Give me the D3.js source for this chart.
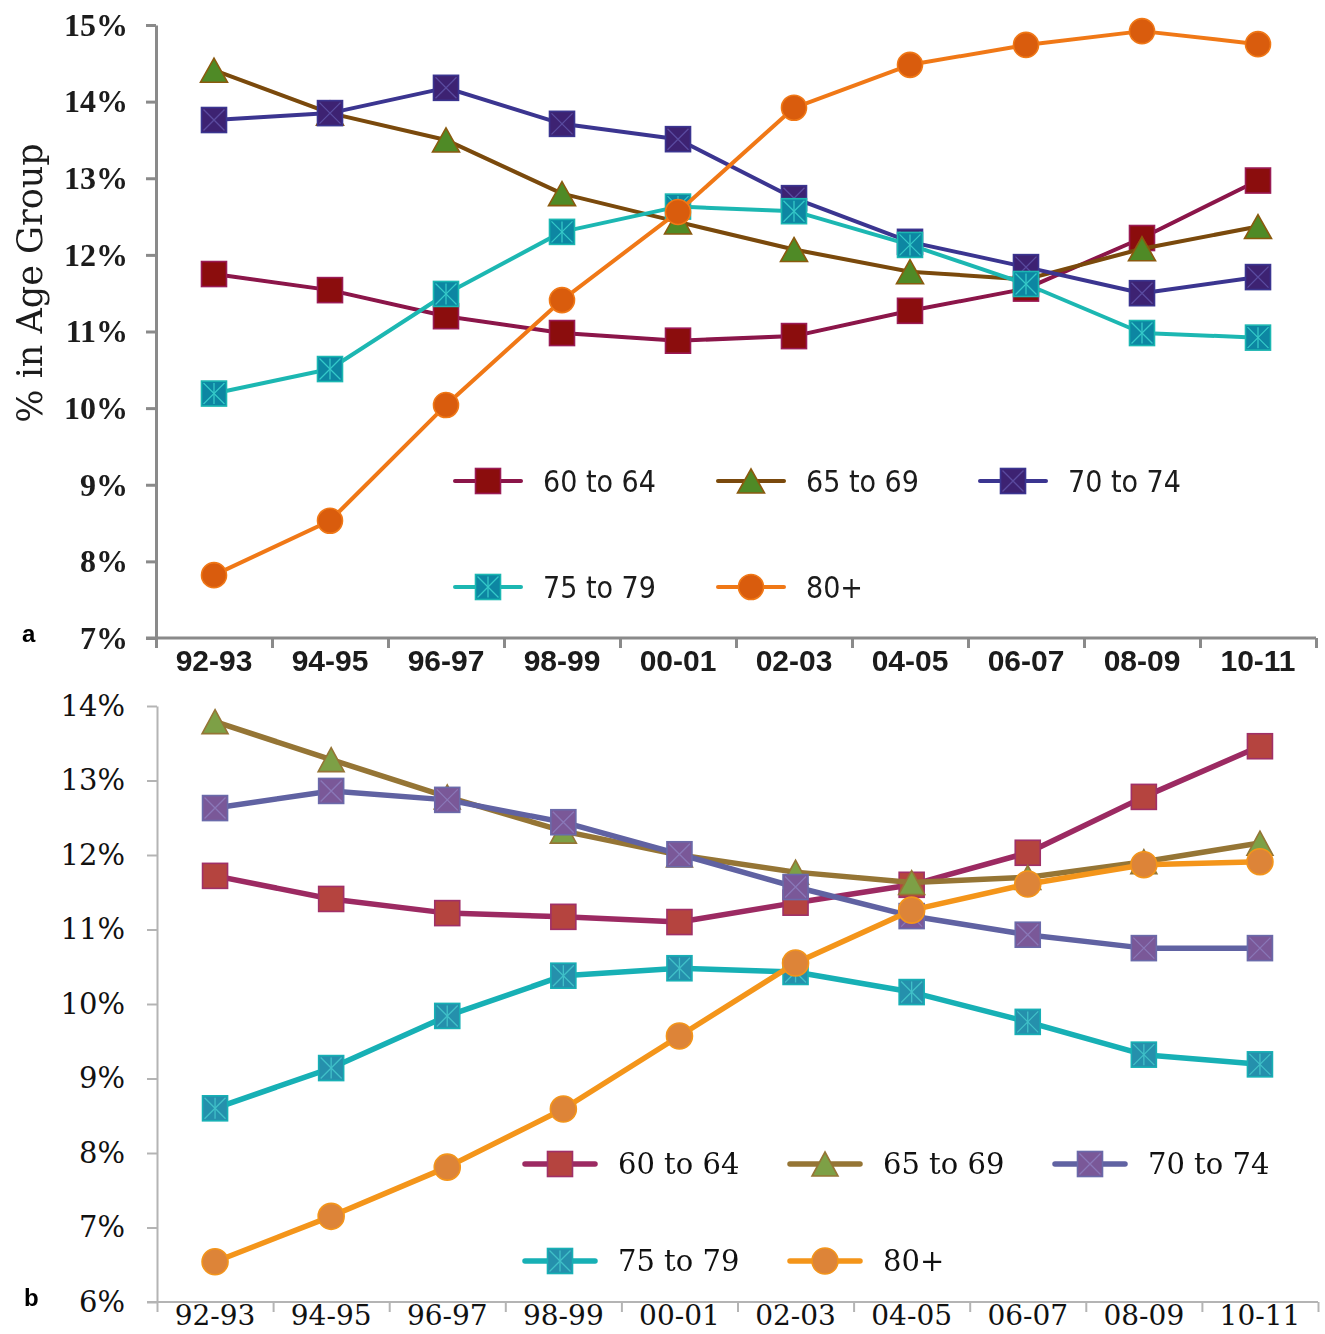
<!DOCTYPE html>
<html>
<head>
<meta charset="utf-8">
<script src="https://cdn.jsdelivr.net/npm/d3@7/dist/d3.min.js"></script>
<style>
  html, body { margin: 0; padding: 0; background: #fff; }
  svg { display: block; }
</style>
</head>
<body>
<svg id="chart" width="1325" height="1334"></svg>
<script>
// Share of older population by age group, two-year periods 1992-93 to 2010-11
const categories = ["92-93", "94-95", "96-97", "98-99", "00-01", "02-03", "04-05", "06-07", "08-09", "10-11"];
const seriesNames = ["60 to 64", "65 to 69", "70 to 74", "75 to 79", "80+"];

// Panel a (values in %)
const a60to64 = [11.75, 11.54, 11.20, 10.98, 10.88, 10.94, 11.27, 11.56, 12.22, 12.97];
const a65to69 = [14.41, 13.85, 13.50, 12.80, 12.43, 12.07, 11.78, 11.68, 12.08, 12.37];
const a70to74 = [13.76, 13.85, 14.18, 13.71, 13.51, 12.74, 12.17, 11.84, 11.50, 11.71];
const a75to79 = [10.19, 10.51, 11.49, 12.30, 12.63, 12.57, 12.13, 11.62, 10.98, 10.92];
const a80plus = [7.82, 8.53, 10.04, 11.41, 12.56, 13.92, 14.48, 14.74, 14.92, 14.75];

// Panel b (values in %)
const b60to64 = [11.72, 11.41, 11.22, 11.17, 11.10, 11.36, 11.60, 12.03, 12.78, 13.46];
const b65to69 = [13.79, 13.28, 12.78, 12.32, 12.00, 11.77, 11.63, 11.70, 11.91, 12.16];
const b70to74 = [12.63, 12.86, 12.74, 12.44, 12.01, 11.57, 11.18, 10.93, 10.75, 10.75];
const b75to79 = [8.60, 9.14, 9.84, 10.38, 10.48, 10.43, 10.16, 9.76, 9.32, 9.19];
const b80plus = [6.54, 7.15, 7.81, 8.59, 9.57, 10.55, 11.26, 11.61, 11.87, 11.91];

// Axis tick values
const aTicks = [7, 8, 9, 10, 11, 12, 13, 14, 15];
const bTicks = [6, 7, 8, 9, 10, 11, 12, 13, 14];

const svg = d3.select("#chart");

// soft focus for the upper panel
const defs = svg.append("defs");
defs.append("filter").attr("id", "soft")
  .attr("x", "-5%").attr("y", "-5%").attr("width", "110%").attr("height", "110%")
  .append("feGaussianBlur").attr("stdDeviation", 0.65);

function drawMarker(g, shape, cx, cy, st) {
  const s = st.size;
  if (shape === "circle") {
    g.append("circle").attr("cx", cx).attr("cy", cy).attr("r", st.r)
      .attr("fill", st.fill).attr("stroke", st.stroke).attr("stroke-width", st.mw);
  } else if (shape === "triangle") {
    const w = st.triW, h = st.triH;
    g.append("path")
      .attr("d", `M${cx},${cy - h / 2}L${cx + w / 2},${cy + h / 2}L${cx - w / 2},${cy + h / 2}Z`)
      .attr("fill", st.fill).attr("stroke", st.stroke).attr("stroke-width", st.mw)
      .attr("stroke-linejoin", "miter");
  } else {
    g.append("rect").attr("x", cx - s / 2).attr("y", cy - s / 2).attr("width", s).attr("height", s)
      .attr("fill", st.fill).attr("stroke", st.stroke).attr("stroke-width", st.mw);
    const d = s / 2 - 2;
    if (shape === "squareX" || shape === "squareStar") {
      g.append("path")
        .attr("d", `M${cx - d},${cy - d}L${cx + d},${cy + d}M${cx - d},${cy + d}L${cx + d},${cy - d}`)
        .attr("stroke", st.inner).attr("stroke-width", 1.3).attr("fill", "none");
    }
    if (shape === "squareStar") {
      g.append("path")
        .attr("d", `M${cx},${cy - d}L${cx},${cy + d}`)
        .attr("stroke", st.inner).attr("stroke-width", 1.3).attr("fill", "none");
    }
  }
}

function drawPanel(cfg) {
  const g = svg.append("g");
  if (cfg.filter) g.attr("filter", cfg.filter);

  const x = d3.scaleBand().domain(categories).range([cfg.x0, cfg.x1]);
  const xEdge = d3.scaleLinear().domain([0, categories.length]).range([cfg.x0, cfg.x1]);
  const y = d3.scaleLinear().domain(cfg.yDomain).range([cfg.yBottom, cfg.yTop]);

  // y axis
  const yAxis = d3.axisLeft(y).tickValues(cfg.ticks).tickSize(10).tickSizeOuter(0)
    .tickFormat(d => d + "%").tickPadding(20);
  const ya = g.append("g").attr("transform", `translate(${cfg.x0},0)`).call(yAxis);
  ya.select(".domain").attr("stroke", cfg.axisColor).attr("stroke-width", cfg.axisWidth);
  ya.selectAll(".tick line").attr("stroke", cfg.axisColor).attr("stroke-width", cfg.axisWidth);
  ya.selectAll(".tick text")
    .attr("font-family", cfg.yFont).attr("font-size", cfg.yFontSize)
    .attr("font-weight", cfg.yWeight).attr("fill", cfg.textColor).attr("x", cfg.yLabelX - cfg.x0);

  // x axis: boundary tick marks
  const xTicksAxis = d3.axisBottom(xEdge).tickValues(d3.range(0, categories.length + 1))
    .tickSize(10).tickSizeOuter(0).tickFormat("");
  const xa = g.append("g").attr("transform", `translate(0,${cfg.yBottom})`).call(xTicksAxis);
  xa.select(".domain").attr("stroke", cfg.axisColor).attr("stroke-width", cfg.axisWidth)
    .attr("d", `M${cfg.x0 - 10},0H${cfg.x1}`);
  xa.selectAll(".tick line").attr("stroke", cfg.axisColor).attr("stroke-width", cfg.axisWidth);

  // x axis: category labels
  const xLabels = d3.axisBottom(x).tickSize(0).tickPadding(0);
  const xl = g.append("g").attr("transform", `translate(0,${cfg.yBottom})`).call(xLabels);
  xl.select(".domain").remove();
  xl.selectAll(".tick text")
    .attr("font-family", cfg.xFont).attr("font-size", cfg.xFontSize)
    .attr("font-weight", cfg.xWeight).attr("fill", cfg.textColor)
    .attr("dy", null).attr("y", cfg.xLabelDy);

  // series
  const line = d3.line().x((d, i) => x(categories[i]) + x.bandwidth() / 2).y(d => y(d));
  cfg.series.forEach((s, k) => {
    const st = cfg.styles[k];
    const sg = g.append("g");
    sg.append("path").datum(s).attr("d", line)
      .attr("fill", "none").attr("stroke", st.line).attr("stroke-width", cfg.lineWidth)
      .attr("stroke-linejoin", "round");
    s.forEach((v, i) => {
      drawMarker(sg, st.shape, x(categories[i]) + x.bandwidth() / 2, y(v), Object.assign({}, cfg.marker, st));
    });
  });

  // legend
  cfg.legendPos.forEach((p, k) => {
    const st = cfg.styles[k];
    const lg = g.append("g");
    lg.append("line").attr("x1", p[0]).attr("x2", p[0] + cfg.legendLineLen)
      .attr("y1", p[1]).attr("y2", p[1])
      .attr("stroke", st.line).attr("stroke-width", cfg.lineWidth).attr("stroke-linecap", "round");
    drawMarker(lg, st.shape, p[0] + cfg.legendLineLen / 2, p[1], Object.assign({}, cfg.marker, st));
    lg.append("text").attr("x", p[0] + cfg.legendTextDx).attr("y", p[1])
      .attr("dy", "0.36em")
      .attr("font-family", cfg.legendFont).attr("font-size", cfg.legendFontSize)
      .attr("font-weight", cfg.legendWeight)
      .attr("fill", cfg.textColor).text(seriesNames[k]);
  });

  return g;
}

// Panel a
const panelA = drawPanel({
  filter: "url(#soft)",
  x0: 156, x1: 1316, yTop: 25, yBottom: 638, yDomain: [7, 15], ticks: aTicks,
  axisColor: "#8a8a8a", axisWidth: 3, textColor: "#1a1a1a",
  yFont: "'Liberation Serif', serif", yFontSize: 32, yWeight: "bold", yLabelX: 128,
  xFont: "'Liberation Sans', Arial, sans-serif", xFontSize: 30, xWeight: "bold", xLabelDy: 33,
  lineWidth: 4,
  marker: { size: 25, r: 12.5, triW: 27, triH: 24, mw: 1.6 },
  series: [a60to64, a65to69, a70to74, a75to79, a80plus],
  styles: [
    { shape: "square", line: "#8b1248", fill: "#8b0a0a", stroke: "#9a1a55" },
    { shape: "triangle", line: "#7a4a08", fill: "#4f8a25", stroke: "#8a5a10" },
    { shape: "squareX", line: "#3b3590", fill: "#3c2472", stroke: "#3b3590", inner: "#5b4aa0" },
    { shape: "squareStar", line: "#1eb7b2", fill: "#0a86a2", stroke: "#1eb7b2", inner: "#36c8c8" },
    { shape: "circle", line: "#f07818", fill: "#d95c0a", stroke: "#f07818" }
  ],
  legendPos: [[455, 481], [718, 481], [980, 481], [455, 587], [718, 587]],
  legendLineLen: 66, legendTextDx: 88,
  legendFont: "'DejaVu Sans Condensed', 'DejaVu Sans', sans-serif", legendFontSize: 30, legendWeight: "normal"
});

// rotated axis title for panel a
panelA.append("text")
  .attr("transform", "translate(42,283) rotate(-90)")
  .attr("text-anchor", "middle")
  .attr("font-family", "'DejaVu Serif', serif").attr("font-size", 35)
  .attr("fill", "#1a1a1a").text("% in Age Group");

// Panel b
drawPanel({
  x0: 157, x1: 1318, yTop: 706, yBottom: 1302, yDomain: [6, 14], ticks: bTicks,
  axisColor: "#b4b4b4", axisWidth: 2, textColor: "#111",
  yFont: "'DejaVu Serif', serif", yFontSize: 29, yWeight: "normal", yLabelX: 125,
  xFont: "'DejaVu Serif', serif", xFontSize: 28, xWeight: "normal", xLabelDy: 23,
  lineWidth: 5.5,
  marker: { size: 25, r: 13, triW: 26, triH: 24, mw: 1.6 },
  series: [b60to64, b65to69, b70to74, b75to79, b80plus],
  styles: [
    { shape: "square", line: "#9c2a62", fill: "#b5443f", stroke: "#a03068" },
    { shape: "triangle", line: "#957535", fill: "#7da046", stroke: "#957535" },
    { shape: "squareX", line: "#6062a2", fill: "#7a5898", stroke: "#6a6aaa", inner: "#8a78b8" },
    { shape: "squareStar", line: "#17b0b5", fill: "#2590ac", stroke: "#17b0b5", inner: "#40c0c8" },
    { shape: "circle", line: "#f4951a", fill: "#dd8438", stroke: "#f4951a" }
  ],
  legendPos: [[525, 1164], [790, 1164], [1055, 1164], [525, 1261], [790, 1261]],
  legendLineLen: 70, legendTextDx: 93,
  legendFont: "'DejaVu Serif', serif", legendFontSize: 29, legendWeight: "normal"
});

// panel letters
svg.append("text").attr("x", 22).attr("y", 642)
  .attr("font-family", "'Liberation Sans', Arial, sans-serif").attr("font-weight", "bold")
  .attr("font-size", 24).attr("fill", "#000").text("a");
svg.append("text").attr("x", 24).attr("y", 1306)
  .attr("font-family", "'Liberation Sans', Arial, sans-serif").attr("font-weight", "bold")
  .attr("font-size", 24).attr("fill", "#000").text("b");
</script>
</body>
</html>
